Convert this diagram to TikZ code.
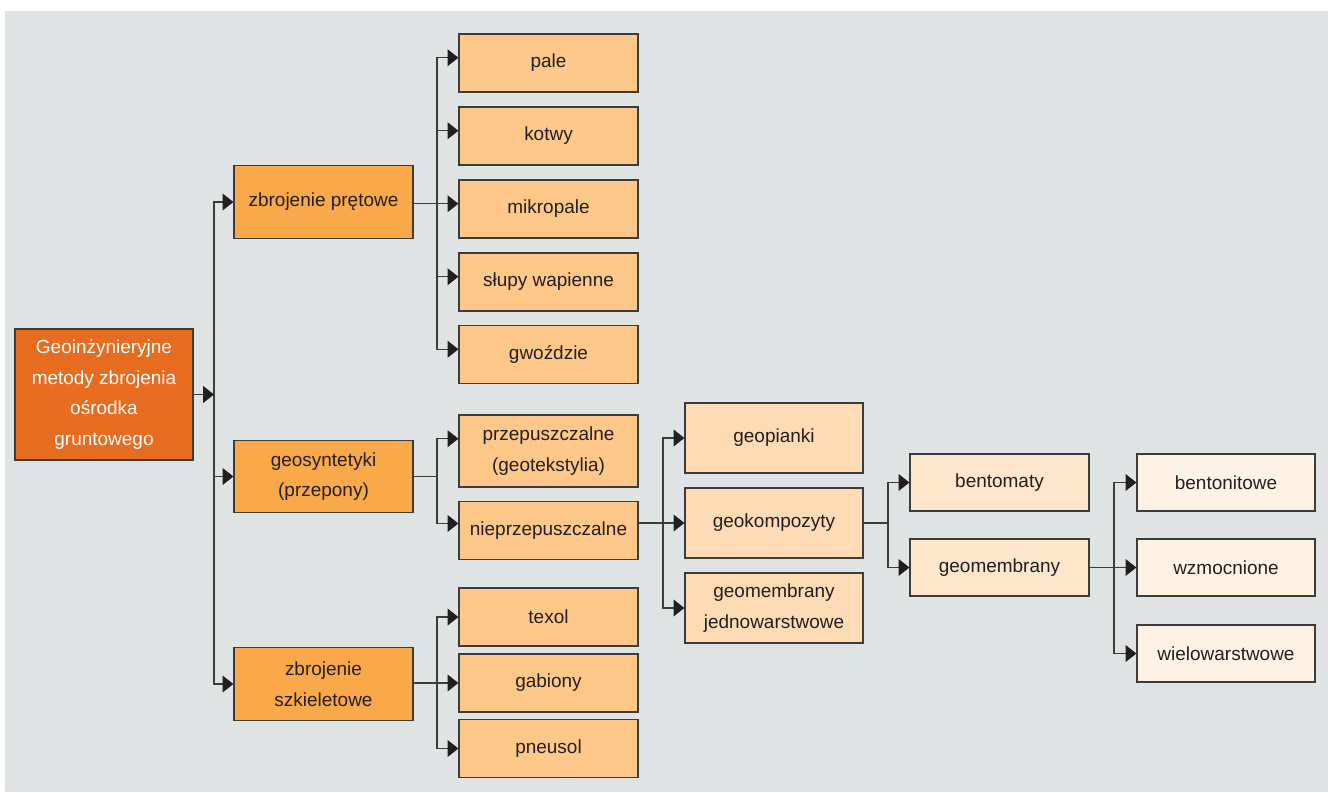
\documentclass[tikz,border=0pt]{standalone}
\usepackage{fontspec}
\setmainfont{Liberation Sans}
\usepackage{tikz}
\usetikzlibrary{arrows.meta}
\usepackage{xcolor}
\definecolor{ColBack}{RGB}{224,227,228}
\definecolor{ColA}{RGB}{232,108,32}
\definecolor{ColB}{RGB}{249,168,74}
\definecolor{ColC}{RGB}{254,200,138}
\definecolor{ColD}{RGB}{253,219,180}
\definecolor{ColE}{RGB}{254,230,204}
\definecolor{ColF}{RGB}{254,242,229}
\definecolor{ColLine}{RGB}{60,60,60}
\definecolor{ColText}{RGB}{35,31,32}
\tikzstyle{Box}=[rectangle,draw=ColLine,line width=.7pt,inner sep=0pt,align=center,
text=ColText,font=\fontsize{10.8}{17.5}\selectfont]
\tikzstyle{BoxRoot}=[Box,fill=ColA,text=white,minimum width=3.56cm,minimum height=2.62cm]
\tikzstyle{BoxA}=[Box,fill=ColB,minimum width=3.58cm,minimum height=1.45cm]
\tikzstyle{BoxB}=[Box,fill=ColC,minimum width=3.58cm,minimum height=1.16cm]
\tikzstyle{BoxC}=[Box,fill=ColD,minimum width=3.56cm,minimum height=1.4cm]
\tikzstyle{BoxD}=[Box,fill=ColE,minimum width=3.58cm,minimum height=1.14cm]
\tikzstyle{BoxE}=[Box,fill=ColF,minimum width=3.56cm,minimum height=1.14cm]
\tikzstyle{EdgeLine}=[ColLine,line width=.7pt]
\tikzstyle{EdgeArrow}=[EdgeLine,-{Triangle[length=6.2pt,width=9.6pt,color=ColText]}]

\begin{document}
\begin{tikzpicture}[x=.02cm,y=-.02cm]
        \useasboundingbox(0,0)rectangle(1328,792);
        \fill[ColBack](5,11)rectangle(1328,792);
        \node[BoxRoot](root)at(104,394.5){Geoinżynieryjne\\metody zbrojenia\\ośrodka\\gruntowego};
        \node[BoxA](pretowe)at(323.5,202){zbrojenie prętowe};
        \node[BoxA](geosyn)at(323.5,476.5){geosyntetyki\\(przepony)};
        \node[BoxA](szkielet)at(323.5,684){zbrojenie\\szkieletowe};
        \node[BoxB](pale)at(548.5,63){pale};
        \node[BoxB](kotwy)at(548.5,136){kotwy};
        \node[BoxB](mikropale)at(548.5,209){mikropale};
        \node[BoxB](slupy)at(548.5,282){słupy wapienne};
        \node[BoxB](gwozdzie)at(548.5,354.5){gwoździe};
        \node[BoxB,minimum height=1.44cm](przep)at(548.5,451){przepuszczalne\\(geotekstylia)};
        \node[BoxB](nieprzep)at(548.5,530.5){nieprzepuszczalne};
        \node[BoxB](texol)at(548.5,617){texol};
        \node[BoxB](gabiony)at(548.5,683){gabiony};
        \node[BoxB](pneusol)at(548.5,748.5){pneusol};
        \node[BoxC](geopianki)at(774,438){geopianki};
        \node[BoxC](geokomp)at(774,523){geokompozyty};
        \node[BoxC](jednowar)at(774,608){geomembrany\\jednowarstwowe};
        \node[BoxD](bentomaty)at(999.5,482.5){bentomaty};
        \node[BoxD](geomem)at(999.5,567.5){geomembrany};
        \node[BoxE](bentonit)at(1226,482.5){bentonitowe};
        \node[BoxE](wzmoc)at(1226,567.5){wzmocnione};
        \node[BoxE](wielowar)at(1226,653.5){wielowarstwowe};
        \coordinate(jRoot)at(214,394.5);
        \coordinate(jPret)at(437,203.5);
        \coordinate(jGeo)at(437,476.5);
        \coordinate(jSzk)at(437,683);
        \coordinate(jNie)at(663,523);
        \coordinate(jKomp)at(888,523);
        \coordinate(jMem)at(1114,567.5);
        \draw[EdgeArrow](root.east|-jRoot)--(jRoot);
        \draw[EdgeArrow](jRoot)|-(pretowe);
        \draw[EdgeArrow](jRoot)|-(geosyn);
        \draw[EdgeArrow](jRoot)|-(szkielet);
        \draw[EdgeLine](pretowe.east|-jPret)--(jPret);
        \draw[EdgeArrow](jPret)|-([yshift=3pt]pale.west);
        \draw[EdgeArrow](jPret)|-([yshift=3pt]kotwy.west);
        \draw[EdgeArrow](jPret)|-([yshift=3pt]mikropale.west);
        \draw[EdgeArrow](jPret)|-([yshift=3pt]slupy.west);
        \draw[EdgeArrow](jPret)|-([yshift=3pt]gwozdzie.west);
        \draw[EdgeLine](geosyn.east|-jGeo)--(jGeo);
        \draw[EdgeArrow](jGeo)|-([yshift=7pt]przep.west);
        \draw[EdgeArrow](jGeo)|-([yshift=4pt]nieprzep.west);
        \draw[EdgeLine](szkielet.east|-jSzk)--(jSzk);
        \draw[EdgeArrow](jSzk)|-(texol);
        \draw[EdgeArrow](jSzk)|-(gabiony);
        \draw[EdgeArrow](jSzk)|-(pneusol);
        \draw[EdgeLine](nieprzep.east|-jNie)--(jNie);
        \draw[EdgeArrow](jNie)|-(geopianki);
        \draw[EdgeArrow](jNie)|-(geokomp);
        \draw[EdgeArrow](jNie)|-(jednowar);
        \draw[EdgeLine](geokomp.east|-jKomp)--(jKomp);
        \draw[EdgeArrow](jKomp)|-(bentomaty);
        \draw[EdgeArrow](jKomp)|-(geomem);
        \draw[EdgeLine](geomem.east|-jMem)--(jMem);
        \draw[EdgeArrow](jMem)|-(bentonit);
        \draw[EdgeArrow](jMem)|-(wzmoc);
        \draw[EdgeArrow](jMem)|-(wielowar);
    \end{tikzpicture}
\end{document}
